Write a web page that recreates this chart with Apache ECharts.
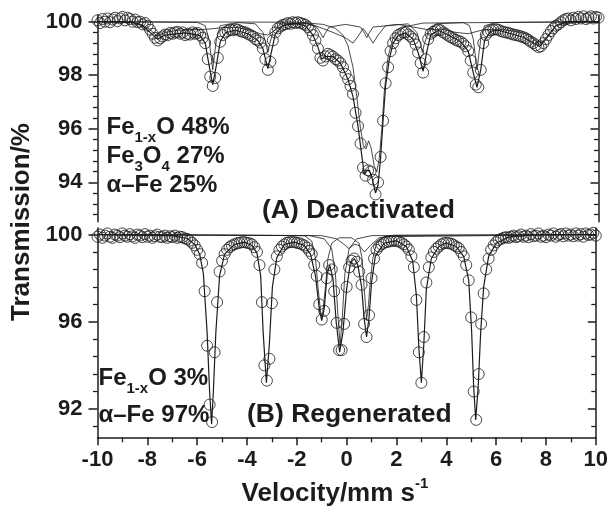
<!DOCTYPE html>
<html>
<head>
<meta charset="utf-8">
<script src="https://cdn.jsdelivr.net/npm/echarts@6/dist/echarts.min.js"></script>
<style>
  html, body { margin: 0; padding: 0; background: #ffffff; }
  #chart { width: 611px; height: 508px; }
</style>
</head>
<body>
<div id="chart"></div>
<script>
// Mössbauer spectra of the deactivated (A) and regenerated (B) catalyst.

// Channel velocities, mm/s
const velocity = [
  -10,-9.9,-9.8,-9.7,-9.6,-9.5,-9.4,-9.3,-9.2,-9.1,-9,-8.9,-8.8,-8.7,-8.6,-8.5,-8.4,-8.3,-8.2,-8.1,
  -8,-7.9,-7.8,-7.7,-7.6,-7.5,-7.4,-7.3,-7.2,-7.1,-7,-6.9,-6.8,-6.7,-6.6,-6.5,-6.4,-6.3,-6.2,-6.1,
  -6,-5.9,-5.8,-5.7,-5.6,-5.5,-5.4,-5.3,-5.2,-5.1,-5,-4.9,-4.8,-4.7,-4.6,-4.5,-4.4,-4.3,-4.2,-4.1,
  -4,-3.9,-3.8,-3.7,-3.6,-3.5,-3.4,-3.3,-3.2,-3.1,-3,-2.9,-2.8,-2.7,-2.6,-2.5,-2.4,-2.3,-2.2,-2.1,
  -2,-1.9,-1.8,-1.7,-1.6,-1.5,-1.4,-1.3,-1.2,-1.1,-1,-0.9,-0.8,-0.7,-0.6,-0.5,-0.4,-0.3,-0.2,-0.1,
  0,0.1,0.2,0.3,0.4,0.5,0.6,0.7,0.8,0.9,1,1.1,1.2,1.3,1.4,1.5,1.6,1.7,1.8,1.9,
  2,2.1,2.2,2.3,2.4,2.5,2.6,2.7,2.8,2.9,3,3.1,3.2,3.3,3.4,3.5,3.6,3.7,3.8,3.9,
  4,4.1,4.2,4.3,4.4,4.5,4.6,4.7,4.8,4.9,5,5.1,5.2,5.3,5.4,5.5,5.6,5.7,5.8,5.9,
  6,6.1,6.2,6.3,6.4,6.5,6.6,6.7,6.8,6.9,7,7.1,7.2,7.3,7.4,7.5,7.6,7.7,7.8,7.9,
  8,8.1,8.2,8.3,8.4,8.5,8.6,8.7,8.8,8.9,9,9.1,9.2,9.3,9.4,9.5,9.6,9.7,9.8,9.9,10
];

// (A) Deactivated: measured transmission, %
const transDeactivated = [
  100.05,99.95,100.1,100.0,100.12,99.98,100.08,100.15,100.02,100.12,100.18,100.05,100.15,100.1,100.0,100.08,99.98,100.0,99.9,99.95,
  99.85,99.7,99.55,99.4,99.3,99.38,99.45,99.52,99.5,99.58,
  99.55,99.6,99.62,99.55,99.6,99.5,99.55,99.52,99.6,99.55,
  99.58,99.5,99.4,99.2,98.6,97.95,97.6,97.9,98.65,99.25,
  99.5,99.6,99.65,99.7,99.68,99.72,99.7,99.65,99.62,99.6,
  99.55,99.5,99.45,99.35,99.3,99.22,99.0,98.6,98.2,98.5,
  99.3,99.6,99.75,99.82,99.88,99.9,99.95,99.92,99.98,99.95,
  99.98,99.95,99.92,99.88,99.8,99.68,99.5,99.3,99.0,98.65,
  98.55,98.7,98.8,98.75,98.7,98.6,98.55,98.45,98.3,98.05,
  97.85,97.6,97.3,96.6,96.1,95.45,94.55,94.25,94.45,94.4,
  94.1,93.55,94.0,94.95,96.3,97.7,98.3,98.9,99.2,99.38,
  99.5,99.55,99.6,99.6,99.52,99.45,99.35,99.15,98.85,98.45,
  98.1,98.6,99.35,99.55,99.62,99.68,99.7,99.68,99.6,99.55,
  99.48,99.42,99.38,99.32,99.28,99.25,99.18,99.08,98.9,98.55,
  98.1,97.65,97.55,98.2,99.2,99.5,99.62,99.68,99.7,99.72,
  99.7,99.65,99.62,99.6,99.58,99.55,99.52,99.5,99.48,99.45,
  99.42,99.38,99.32,99.25,99.2,99.12,99.05,99.08,99.2,99.35,
  99.5,99.65,99.75,99.85,99.9,99.98,100.05,100.1,100.12,100.05,
  100.15,100.1,100.18,100.12,100.2,100.1,100.15,100.2,100.12,100.18,100.15
];

// (B) Regenerated: measured transmission, %
const transRegenerated = [
  99.9,100.0,99.85,99.95,100.05,99.9,99.85,100.0,99.95,99.88,100.05,99.95,99.9,100.02,99.92,99.85,100.0,99.95,99.88,100.02,
  99.9,99.95,99.85,99.92,100.0,99.9,99.88,99.95,99.85,99.92,
  99.88,99.95,99.85,99.9,99.88,99.82,99.8,99.72,99.62,99.5,
  99.3,99.1,98.7,97.4,94.9,92.2,91.4,94.6,96.9,98.3,
  98.8,99.1,99.3,99.42,99.5,99.55,99.6,99.62,99.65,99.65,
  99.62,99.6,99.55,99.42,99.2,98.6,96.9,94.0,93.3,94.3,
  96.85,98.4,99.0,99.3,99.45,99.55,99.62,99.65,99.65,99.65,
  99.62,99.6,99.55,99.5,99.4,99.25,99.1,98.6,98.1,96.8,
  96.1,96.5,98.0,98.6,98.4,97.4,95.95,94.7,94.7,95.9,
  97.6,98.5,98.8,98.9,98.75,98.3,97.7,95.9,95.3,96.3,
  98.0,98.9,99.3,99.45,99.55,99.62,99.65,99.68,99.7,99.72,
  99.7,99.68,99.62,99.55,99.45,99.3,99.0,98.5,97.0,94.6,
  93.2,95.3,97.8,98.5,98.95,99.2,99.35,99.45,99.55,99.6,
  99.62,99.6,99.58,99.52,99.45,99.38,99.2,99.0,98.6,97.9,
  96.2,92.8,91.5,93.6,95.9,97.3,98.4,98.9,99.3,99.5,
  99.65,99.75,99.8,99.85,99.88,99.85,99.9,99.95,99.88,99.92,
  100.0,99.9,99.95,99.88,100.02,99.92,99.95,100.05,99.9,99.95,
  99.88,100.0,99.95,100.05,99.9,99.98,100.02,99.92,100.05,99.95,
  100.0,99.92,100.05,99.95,100.02,99.9,100.05,99.98,100.0,100.08,99.95
];

// Fitted envelopes and subspectra, [velocity, transmission]
const fitDeactivated = [
  [-10,100.0],[-8.6,99.98],[-8.2,99.85],[-7.9,99.6],[-7.6,99.35],[-7.3,99.5],[-6.5,99.58],[-5.9,99.48],
  [-5.7,99.2],[-5.55,98.4],[-5.4,97.65],[-5.25,98.4],[-5.1,99.25],[-4.9,99.58],[-4.5,99.68],[-4.0,99.55],
  [-3.6,99.3],[-3.4,99.0],[-3.2,98.25],[-3.05,98.9],[-2.9,99.55],[-2.6,99.85],[-2.1,99.93],[-1.7,99.85],
  [-1.4,99.5],[-1.2,99.05],[-1.05,98.6],[-0.9,98.7],[-0.6,98.7],[-0.3,98.45],[0.0,97.85],[0.2,97.2],
  [0.4,96.1],[0.55,95.0],[0.65,94.3],[0.75,94.45],[0.85,94.45],[0.95,94.2],[1.1,93.6],[1.2,93.9],
  [1.3,94.9],[1.4,96.3],[1.5,97.6],[1.65,98.6],[1.8,99.2],[2.0,99.48],[2.3,99.58],[2.6,99.35],
  [2.8,98.85],[3.0,98.15],[3.15,98.9],[3.3,99.5],[3.6,99.68],[4.0,99.5],[4.5,99.25],[4.8,98.9],
  [5.0,98.1],[5.15,97.55],[5.3,98.2],[5.45,99.3],[5.7,99.65],[6.0,99.68],[6.5,99.55],[7.0,99.42],
  [7.4,99.2],[7.65,99.08],[7.9,99.35],[8.3,99.85],[8.7,100.0],[10,100.0]
];
const ironDeactivated = [
  [-10,100],[-6.0,99.97],[-5.7,99.85],[-5.55,99.35],[-5.47,98.75],[-5.4,98.2],[-5.33,98.75],[-5.25,99.35],
  [-5.1,99.85],[-4.4,99.97],[-3.7,99.92],[-3.4,99.6],[-3.27,99.15],[-3.2,98.85],[-3.13,99.15],[-3.0,99.6],
  [-2.7,99.92],[-1.6,99.95],[-1.25,99.8],[-1.08,99.55],[-1.0,99.4],[-0.92,99.55],[-0.75,99.8],[-0.1,99.9],
  [0.5,99.8],[0.67,99.55],[0.75,99.4],[0.83,99.55],[1.0,99.8],[2.4,99.92],[2.75,99.6],[2.9,99.15],
  [2.97,98.85],[3.04,99.15],[3.2,99.6],[3.5,99.92],[4.6,99.97],[4.85,99.85],[5.0,99.35],[5.08,98.75],
  [5.15,98.2],[5.22,98.75],[5.3,99.35],[5.45,99.85],[5.9,99.97],[10,100]
];
const magnetiteDeactivated = [
  [-10,100],[-8.6,99.97],[-8.2,99.88],[-7.9,99.7],[-7.6,99.45],[-7.3,99.6],[-6.8,99.68],[-6.2,99.7],
  [-5.6,99.72],[-5.0,99.78],[-4.4,99.78],[-3.9,99.68],[-3.5,99.55],[-3.2,99.5],[-2.9,99.7],[-2.5,99.9],
  [-1.8,99.95],[-1.3,99.85],[-0.6,99.6],[-0.1,99.4],[0.2,99.2],[0.4,99.45],[0.6,99.75],[0.8,99.5],
  [1.0,99.2],[1.2,99.5],[1.5,99.85],[2.0,99.9],[2.6,99.8],[3.2,99.7],[3.8,99.72],[4.3,99.6],
  [4.8,99.55],[5.4,99.7],[6.0,99.72],[6.6,99.65],[7.1,99.55],[7.4,99.35],[7.65,99.15],[7.9,99.4],
  [8.3,99.85],[8.8,99.97],[10,100]
];
const wustiteDeactivated = [
  [-10,100],[-2,99.98],[-1.0,99.9],[-0.5,99.75],[-0.2,99.5],[0.0,99.1],[0.2,98.3],[0.35,97.2],
  [0.5,96.0],[0.62,95.35],[0.72,95.25],[0.82,95.55],[0.92,95.3],[1.05,94.6],[1.15,94.4],[1.25,94.9],
  [1.35,96.0],[1.45,97.4],[1.6,98.7],[1.8,99.4],[2.2,99.8],[3,99.95],[10,100]
];

const fitRegenerated = [
  [-10,100],[-7,99.95],[-6.4,99.82],[-6.1,99.55],[-5.9,99.1],[-5.75,98.2],[-5.6,95.5],[-5.5,92.8],
  [-5.42,91.3],[-5.35,92.8],[-5.25,95.5],[-5.1,98.1],[-4.9,99.1],[-4.5,99.55],[-4.1,99.65],[-3.8,99.5],
  [-3.6,99.15],[-3.45,98.1],[-3.35,95.5],[-3.22,93.2],[-3.1,95.0],[-2.98,97.6],[-2.8,98.95],[-2.5,99.55],
  [-2.1,99.65],[-1.7,99.5],[-1.45,99.1],[-1.25,98.1],[-1.1,96.6],[-1.0,96.05],[-0.9,96.6],[-0.78,98.2],
  [-0.68,98.6],[-0.55,98.0],[-0.42,96.0],[-0.28,94.6],[-0.15,95.5],[0.0,97.5],[0.15,98.7],[0.3,98.9],
  [0.45,98.6],[0.6,97.6],[0.7,96.2],[0.8,95.3],[0.9,96.2],[1.0,97.8],[1.15,99.0],[1.5,99.6],
  [2.0,99.72],[2.4,99.45],[2.65,98.8],[2.8,97.2],[2.9,94.8],[3.0,93.2],[3.1,95.0],[3.2,97.5],
  [3.4,98.9],[3.7,99.45],[4.0,99.62],[4.4,99.45],[4.7,99.0],[4.9,97.9],[5.02,95.5],[5.1,93.0],
  [5.18,91.5],[5.28,93.0],[5.38,95.5],[5.5,97.6],[5.7,99.0],[6.0,99.6],[6.5,99.88],[7.5,100.0],[10,100.0]
];
const ironInnerRegenerated = [
  [-10,100],[-1.7,99.95],[-1.4,99.7],[-1.25,98.9],[-1.15,97.6],[-1.05,96.5],[-1.0,96.2],[-0.95,96.5],
  [-0.85,97.6],[-0.75,98.9],[-0.6,99.6],[-0.3,99.85],[0.2,99.85],[0.5,99.6],[0.62,98.9],[0.7,97.6],
  [0.8,96.1],[0.88,96.8],[0.95,97.9],[1.05,98.9],[1.2,99.6],[1.5,99.9],[10,100]
];
const centralLineRegenerated = [
  [-10,100],[-1.5,99.95],[-0.9,99.8],[-0.6,99.35],[-0.45,98.2],[-0.35,96.3],[-0.26,94.9],[-0.17,96.3],
  [-0.07,98.2],[0.1,99.35],[0.4,99.8],[1.0,99.95],[10,100]
];
const wustiteRegenerated = [
  [-10,100],[-1.0,99.95],[-0.4,99.8],[-0.1,99.55],[0.1,99.35],[0.3,99.55],[0.5,99.5],[0.72,99.2],
  [0.95,99.5],[1.3,99.85],[2.0,99.97],[10,100]
];

// Axis ticks
const velocityTicks = [-10, -8, -6, -4, -2, 0, 2, 4, 6, 8, 10];
const majorTicksA = [94, 96, 98, 100];
const minorTicksA = [92.8,93.2,93.6,94.4,94.8,95.2,95.6,96.4,96.8,97.2,97.6,98.4,98.8,99.2,99.6];
const majorTicksB = [92, 96, 100];
const minorTicksB = [91.2,92.8,93.6,94.4,95.2,96.8,97.6,98.4,99.2];

const INK = '#1c1c1c';
const FONT = '"Liberation Sans", Arial, Helvetica, sans-serif';

const pairs = (xs, ys) => xs.map((x, i) => [x, ys[i]]);

function yAxesFor(gridIndex, min, max, major, minor) {
  const base = {
    type: 'value', gridIndex, min, max,
    splitLine: { show: false },
    axisPointer: { show: false }
  };
  return [
    Object.assign({}, base, {
      position: 'left',
      axisLine: { show: true, onZero: false, lineStyle: { color: INK, width: 1.5 } },
      axisTick: { show: true, inside: false, length: 9, customValues: major, lineStyle: { color: INK, width: 1.5 } },
      axisLabel: { show: true, customValues: major, margin: 15, color: INK, fontSize: 22, fontWeight: 'bold', fontFamily: FONT }
    }),
    Object.assign({}, base, {
      position: 'left',
      axisLine: { show: false, onZero: false },
      axisTick: { show: true, inside: false, length: 4.5, customValues: minor, lineStyle: { color: INK, width: 1.3 } },
      axisLabel: { show: false }
    }),
    Object.assign({}, base, {
      position: 'right',
      axisLine: { show: true, onZero: false, lineStyle: { color: INK, width: 1.5 } },
      axisTick: { show: true, inside: true, length: 8, customValues: major, lineStyle: { color: INK, width: 1.5 } },
      axisLabel: { show: false }
    }),
    Object.assign({}, base, {
      position: 'right',
      axisLine: { show: false, onZero: false },
      axisTick: { show: true, inside: true, length: 4.5, customValues: minor, lineStyle: { color: INK, width: 1.3 } },
      axisLabel: { show: false }
    })
  ];
}

function points(xAxisIndex, yAxisIndex, data) {
  return {
    type: 'scatter', xAxisIndex, yAxisIndex, data,
    symbol: 'circle', symbolSize: 11,
    itemStyle: { color: 'rgba(0,0,0,0)', borderColor: INK, borderWidth: 1 },
    silent: true, z: 2
  };
}

function curve(xAxisIndex, yAxisIndex, data, width) {
  return {
    type: 'line', xAxisIndex, yAxisIndex, data,
    showSymbol: false, symbol: 'none',
    lineStyle: { color: INK, width },
    silent: true, z: 3
  };
}

const mainText = { fontSize: 24, fontWeight: 'bold', fontFamily: FONT, lineHeight: 36 };
const subText = { fontSize: 15, fontWeight: 'bold', fontFamily: FONT, lineHeight: 15, verticalAlign: 'bottom' };
const titleText = { fontSize: 26.5, fontWeight: 'bold', fontFamily: FONT, lineHeight: 32 };

function label(x, y, text) {
  return {
    type: 'text', x, y, silent: true, z: 10,
    style: {
      text, fill: INK,
      fontSize: 24, fontWeight: 'bold', fontFamily: FONT,
      align: 'left', verticalAlign: 'middle',
      textAlign: 'left', textVerticalAlign: 'middle',
      rich: { m: mainText, s: subText, t: titleText }
    }
  };
}

const chart = echarts.init(document.getElementById('chart'), null, { renderer: 'canvas' });

chart.setOption({
  animation: false,
  backgroundColor: '#ffffff',
  grid: [
    { left: 97.5, right: 12.5, top: 15, height: 206.7 },
    { left: 97.5, right: 12.5, top: 228, height: 209.3 }
  ],
  xAxis: [
    { type: 'value', gridIndex: 0, min: -10, max: 10, interval: 2, show: false },
    {
      type: 'value', gridIndex: 1, min: -10, max: 10, interval: 2,
      axisLine: { show: true, onZero: false, lineStyle: { color: INK, width: 1.5 } },
      axisTick: { show: true, length: 8, lineStyle: { color: INK, width: 1.5 } },
      minorTick: { show: true, splitNumber: 2, length: 5, lineStyle: { color: INK, width: 1.3 } },
      axisLabel: {
        margin: 12, color: INK, fontSize: 22, fontWeight: 'bold', fontFamily: FONT,
        customValues: velocityTicks
      },
      splitLine: { show: false },
      minorSplitLine: { show: false }
    }
  ],
  yAxis: [].concat(
    yAxesFor(0, 92.53, 100.25, majorTicksA, minorTicksA),
    yAxesFor(1, 90.7, 100.3, majorTicksB, minorTicksB)
  ),
  series: [
    points(0, 0, pairs(velocity, transDeactivated)),
    curve(0, 0, magnetiteDeactivated, 0.8),
    curve(0, 0, wustiteDeactivated, 0.8),
    curve(0, 0, ironDeactivated, 0.8),
    curve(0, 0, fitDeactivated, 1.2),

    points(1, 4, pairs(velocity, transRegenerated)),
    curve(1, 4, wustiteRegenerated, 0.8),
    curve(1, 4, centralLineRegenerated, 0.8),
    curve(1, 4, ironInnerRegenerated, 0.8),
    curve(1, 4, fitRegenerated, 1.2)
  ],
  graphic: [
    label(106.5, 127, '{m|Fe}{s|1-x}{m|O 48%}'),
    label(106.5, 156, '{m|Fe}{s|3}{m|O}{s|4}{m| 27%}'),
    label(106.5, 185, '{m|α–Fe 25%}'),
    label(262, 211, '{t|(A) Deactivated}'),
    label(98.5, 378, '{m|Fe}{s|1-x}{m|O 3%}'),
    label(98.5, 415, '{m|α–Fe 97%}'),
    label(247, 415, '{t|(B) Regenerated}'),
    {
      type: 'text', x: 335, y: 494, silent: true,
      style: {
        text: '{t|Velocity/mm s}{p|-1}', fill: INK,
        align: 'center', verticalAlign: 'middle',
        textAlign: 'center', textVerticalAlign: 'middle',
        rich: {
          t: { fontSize: 26, fontWeight: 'bold', fontFamily: FONT, lineHeight: 35 },
          p: { fontSize: 15, fontWeight: 'bold', fontFamily: FONT, lineHeight: 15, verticalAlign: 'top' }
        }
      }
    },
    {
      type: 'text', x: 22, y: 222, rotation: Math.PI / 2, silent: true,
      style: {
        text: 'Transmission/%', fill: INK,
        fontSize: 26, fontWeight: 'bold', fontFamily: FONT,
        align: 'center', verticalAlign: 'middle',
        textAlign: 'center', textVerticalAlign: 'middle'
      }
    }
  ]
});
</script>
</body>
</html>
